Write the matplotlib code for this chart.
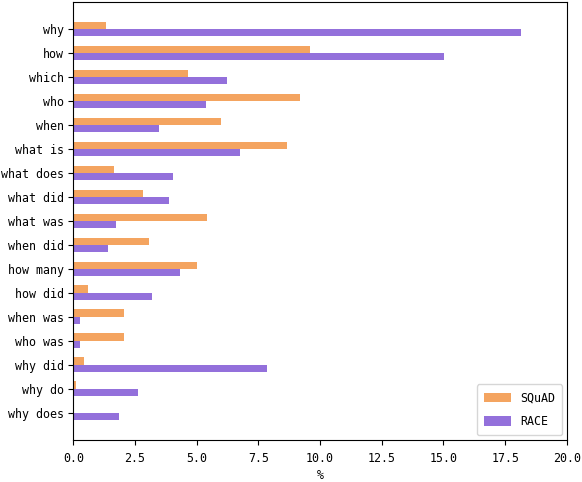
import numpy as np
import matplotlib
matplotlib.use("Agg")
import matplotlib.pyplot as plt

plt.rcParams['font.family'] = ['DejaVu Sans Mono', 'DejaVu Sans']
plt.rcParams['font.size'] = 8.4

categories = ["why", "how", "which", "who", "when", "what is", "what does",
              "what did", "what was", "when did", "how many", "how did",
              "when was", "who was", "why did", "why do", "why does"]
squad = [1.34, 9.58, 4.64, 9.18, 5.98, 8.65, 1.64, 2.84, 5.42, 3.07, 5.0,
         0.6, 2.07, 2.05, 0.42, 0.09, 0.04]
race = [18.13, 15.01, 6.21, 5.38, 3.46, 6.75, 4.03, 3.87, 1.72, 1.42, 4.33,
        3.18, 0.29, 0.25, 7.86, 2.61, 1.87]

fig = plt.figure(figsize=(5.82, 4.82), dpi=100)
ax = fig.add_axes([0.126, 0.088, 0.848, 0.908])
y = np.arange(len(categories))
h = 0.3
ax.barh(y - h / 2, squad, h, color='sandybrown', label='SQuAD')
ax.barh(y + h / 2, race, h, color='mediumpurple', label='RACE')
ax.set_yticks(y)
ax.set_yticklabels(categories)
ax.invert_yaxis()
ax.set_xlim(0, 20)
ax.tick_params(axis='x', pad=5.5)
ax.tick_params(axis='y', pad=3)
ax.set_xlabel('%', labelpad=2.5)
ax.legend(loc='lower right', handlelength=2.3, handleheight=0.85,
          borderpad=0.6, labelspacing=0.9, borderaxespad=0.4)
fig.savefig('out.png', dpi=100)
